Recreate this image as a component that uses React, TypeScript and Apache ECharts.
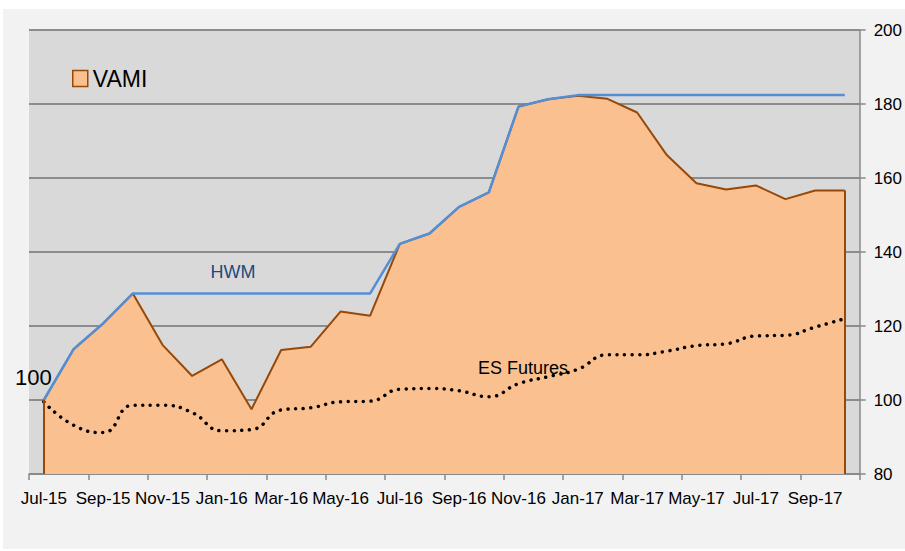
import React, { useEffect, useRef } from 'react';
import * as echarts from 'echarts';

const categories = [
  'Jul-15', 'Aug-15', 'Sep-15', 'Oct-15', 'Nov-15', 'Dec-15', 'Jan-16', 'Feb-16',
  'Mar-16', 'Apr-16', 'May-16', 'Jun-16', 'Jul-16', 'Aug-16', 'Sep-16', 'Oct-16',
  'Nov-16', 'Dec-16', 'Jan-17', 'Feb-17', 'Mar-17', 'Apr-17', 'May-17', 'Jun-17',
  'Jul-17', 'Aug-17', 'Sep-17', 'Oct-17',
];

const vami = [
  100, 113.7, 120.7, 128.8, 114.9, 106.5, 111, 97.5,
  113.5, 114.4, 123.9, 122.8, 142.2, 145, 152.2, 156.1,
  179.3, 181.3, 182.2, 181.4, 177.7, 166.2, 158.6, 156.9,
  158, 154.3, 156.6, 156.6,
];

const hwm = [
  100, 113.7, 120.7, 128.8, 128.8, 128.8, 128.8, 128.8,
  128.8, 128.8, 128.8, 128.8, 142.2, 145, 152.2, 156.1,
  179.3, 181.3, 182.4, 182.4, 182.4, 182.4, 182.4, 182.4,
  182.4, 182.4, 182.4, 182.4,
];

const esFutures = [
  99.5, 93.2, 91.2, 98.6, 98.6, 96.6, 91.7, 92.0,
  97.3, 97.9, 99.5, 99.7, 102.9, 103.1, 102.5, 100.9,
  104.4, 106.3, 108.3, 112.2, 112.2, 113.2, 114.7, 115.2,
  117.3, 117.5, 119.7, 122,
];

const yTicks = { min: 80, max: 200, interval: 20 };

const FONT = "'Liberation Sans', 'DejaVu Sans', sans-serif";

export default function App() {
  const ref = useRef<HTMLDivElement>(null);

  useEffect(() => {
    if (!ref.current) return;
    const chart = echarts.init(ref.current, undefined, { renderer: 'svg' });
    const last = categories.length - 1;
    chart.setOption({
      animation: false,
      backgroundColor: 'transparent',
      textStyle: { fontFamily: FONT },
      grid: {
        left: 29,
        right: 42,
        top: 30,
        bottom: 77,
        show: true,
        backgroundColor: '#D9D9D9',
        borderWidth: 0,
      },
      legend: {
        data: ['VAMI'],
        left: 67,
        top: 62,
        icon: 'rect',
        itemWidth: 15,
        itemHeight: 16,
        itemGap: 10,
        itemStyle: { color: '#FAC090', borderColor: '#984807', borderWidth: 1.5 },
        textStyle: { fontSize: 23, color: '#000', fontFamily: FONT },
        selectedMode: false,
      },
      xAxis: {
        type: 'category',
        data: categories,
        boundaryGap: true,
        axisLine: { show: true, lineStyle: { color: '#898989', width: 1.5 } },
        axisTick: { show: true, interval: 1, length: 6, lineStyle: { color: '#898989', width: 1.5 } },
        axisLabel: { interval: 1, color: '#000', fontSize: 17, margin: 16, fontFamily: FONT },
        splitLine: { show: false },
      },
      yAxis: {
        type: 'value',
        position: 'right',
        min: yTicks.min,
        max: yTicks.max,
        interval: yTicks.interval,
        axisLine: { show: true, lineStyle: { color: '#898989', width: 1.5 } },
        axisTick: { show: true, length: 6, lineStyle: { color: '#898989', width: 1.5 } },
        axisLabel: { color: '#000', fontSize: 17, margin: 14, fontFamily: FONT },
        splitLine: { show: true, lineStyle: { color: '#8C8C8C', width: 2 } },
      },
      series: [
        {
          name: 'VAMI',
          type: 'line',
          data: vami,
          symbol: 'none',
          z: 2,
          lineStyle: { color: '#984807', width: 2 },
          itemStyle: { color: '#FAC090' },
          areaStyle: { color: '#FAC090', opacity: 1, origin: 'start' },
          markLine: {
            silent: true,
            symbol: ['none', 'none'],
            label: { show: false },
            lineStyle: { color: '#984807', width: 2, type: 'solid' },
            emphasis: { disabled: true },
            data: [
              [{ coord: [categories[0], yTicks.min] }, { coord: [categories[0], vami[0]] }],
              [{ coord: [categories[last], yTicks.min] }, { coord: [categories[last], vami[last]] }],
            ],
          },
        },
        {
          name: 'ES Futures',
          type: 'line',
          data: esFutures,
          smooth: true,
          symbol: 'none',
          z: 3,
          lineStyle: { color: '#000000', width: 3.5, type: [0.01, 7.6], cap: 'round' },
        },
        {
          name: 'HWM',
          type: 'line',
          data: hwm,
          symbol: 'none',
          z: 4,
          lineStyle: { color: '#558ED5', width: 2.5 },
        },
      ],
      graphic: [
        {
          type: 'text',
          x: 15,
          y: 377,
          z: 100,
          style: { text: '100', font: `22px ${FONT}`, fill: '#000', textAlign: 'left', textVerticalAlign: 'middle' },
        },
        {
          type: 'text',
          x: 233,
          y: 272,
          z: 100,
          style: { text: 'HWM', font: `18px ${FONT}`, fill: '#1F497D', textAlign: 'center', textVerticalAlign: 'middle' },
        },
        {
          type: 'text',
          x: 478,
          y: 368,
          z: 100,
          style: { text: 'ES Futures', font: `18px ${FONT}`, fill: '#000', textAlign: 'left', textVerticalAlign: 'middle' },
        },
      ],
    });
    return () => chart.dispose();
  }, []);

  return (
    <div style={{ position: 'fixed', left: 0, top: 0, width: 905, height: 551, background: '#ffffff' }}>
      <div style={{ position: 'absolute', left: 3, top: 9, width: 902, height: 540, background: '#F2F2F2' }} />
      <div ref={ref} style={{ position: 'absolute', left: 0, top: 0, width: 905, height: 551 }} />
    </div>
  );
}
